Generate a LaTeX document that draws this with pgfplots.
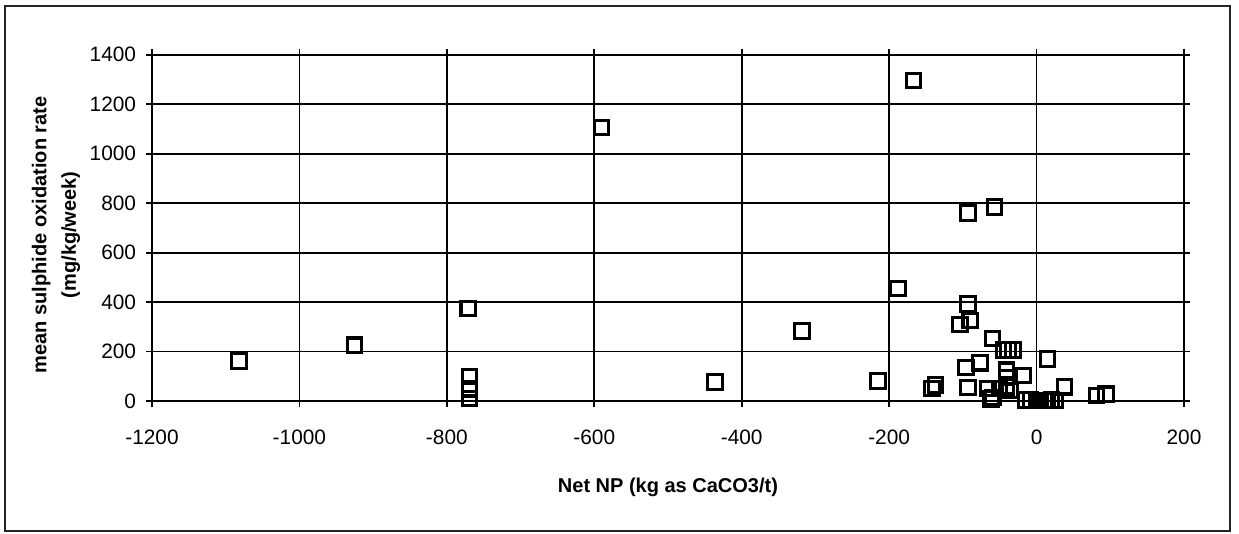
\documentclass[border=0pt]{standalone}
\usepackage{pgfplots}
\pgfplotsset{compat=1.18}
\usepackage{fontspec}
\setmainfont{Liberation Sans}
\begin{document}
\begin{tikzpicture}[x=1pt,y=1pt]
\useasboundingbox (-54.7,-47.5) rectangle (391.3,144.4);
% chart frame
\draw[line width=0.7pt, black!85] (-52.9,-46.8) rectangle (388.1,142.2);
\begin{axis}[
  at={(0,0)}, anchor=south west,
  scale only axis, width=371.5pt, height=124.7pt,
  xmin=-1200, xmax=200, ymin=0, ymax=1400,
  xtick distance=200, ytick distance=200,
  grid=major, major grid style={black, line width=0.6pt},
  axis line style={black, line width=0.7pt},
  tick align=outside, major tick length=2.2pt,
  tick style={black, line width=0.6pt},
  tick label style={font=\fontsize{7.5}{9}\selectfont},
  xticklabel style={yshift=-4.7pt},
  /pgf/number format/assume math mode=true,
  /pgf/number format/1000 sep={},
  xlabel={Net NP (kg as CaCO3/t)},
  ylabel={mean sulphide oxidation rate\\[2pt](mg/kg/week)},
  xlabel style={font=\bfseries\fontsize{7.2}{9}\selectfont,
    at={(axis description cs:0.5,-0.248)}, anchor=center},
  ylabel style={align=center, font=\bfseries\fontsize{7.2}{8.6}\selectfont,
    at={(axis description cs:-0.093,0.48)}, anchor=center},
]
\addplot[only marks, mark=square, mark size=2.6pt, line width=1.1pt, black]
coordinates {
(-1082,162) (-925,226) (-771,375) (-769,100) (-769,50) (-769,10)
(-590,1105) (-436,78) (-318,284) (-215,82) (-188,455) (-167,1295)
(-142,51) (-137,65) (-104,310) (-93,392) (-90,326) (-93,761) (-57,785)
(-96,136) (-93,55) (-77,155) (-60,253) (-45,206) (-39,206) (-32,206)
(-66,51) (-59,15) (-62,8) (-50,51) (-41,58) (-36,44) (-41,125) (-41,96)
(-18,104) (15,170) (38,58) (81,22) (94,28)
(-15,4) (-8,5) (0,2) (5,3) (10,3) (15,2) (20,4) (25,2)
};
\end{axis}
\end{tikzpicture}
\end{document}
